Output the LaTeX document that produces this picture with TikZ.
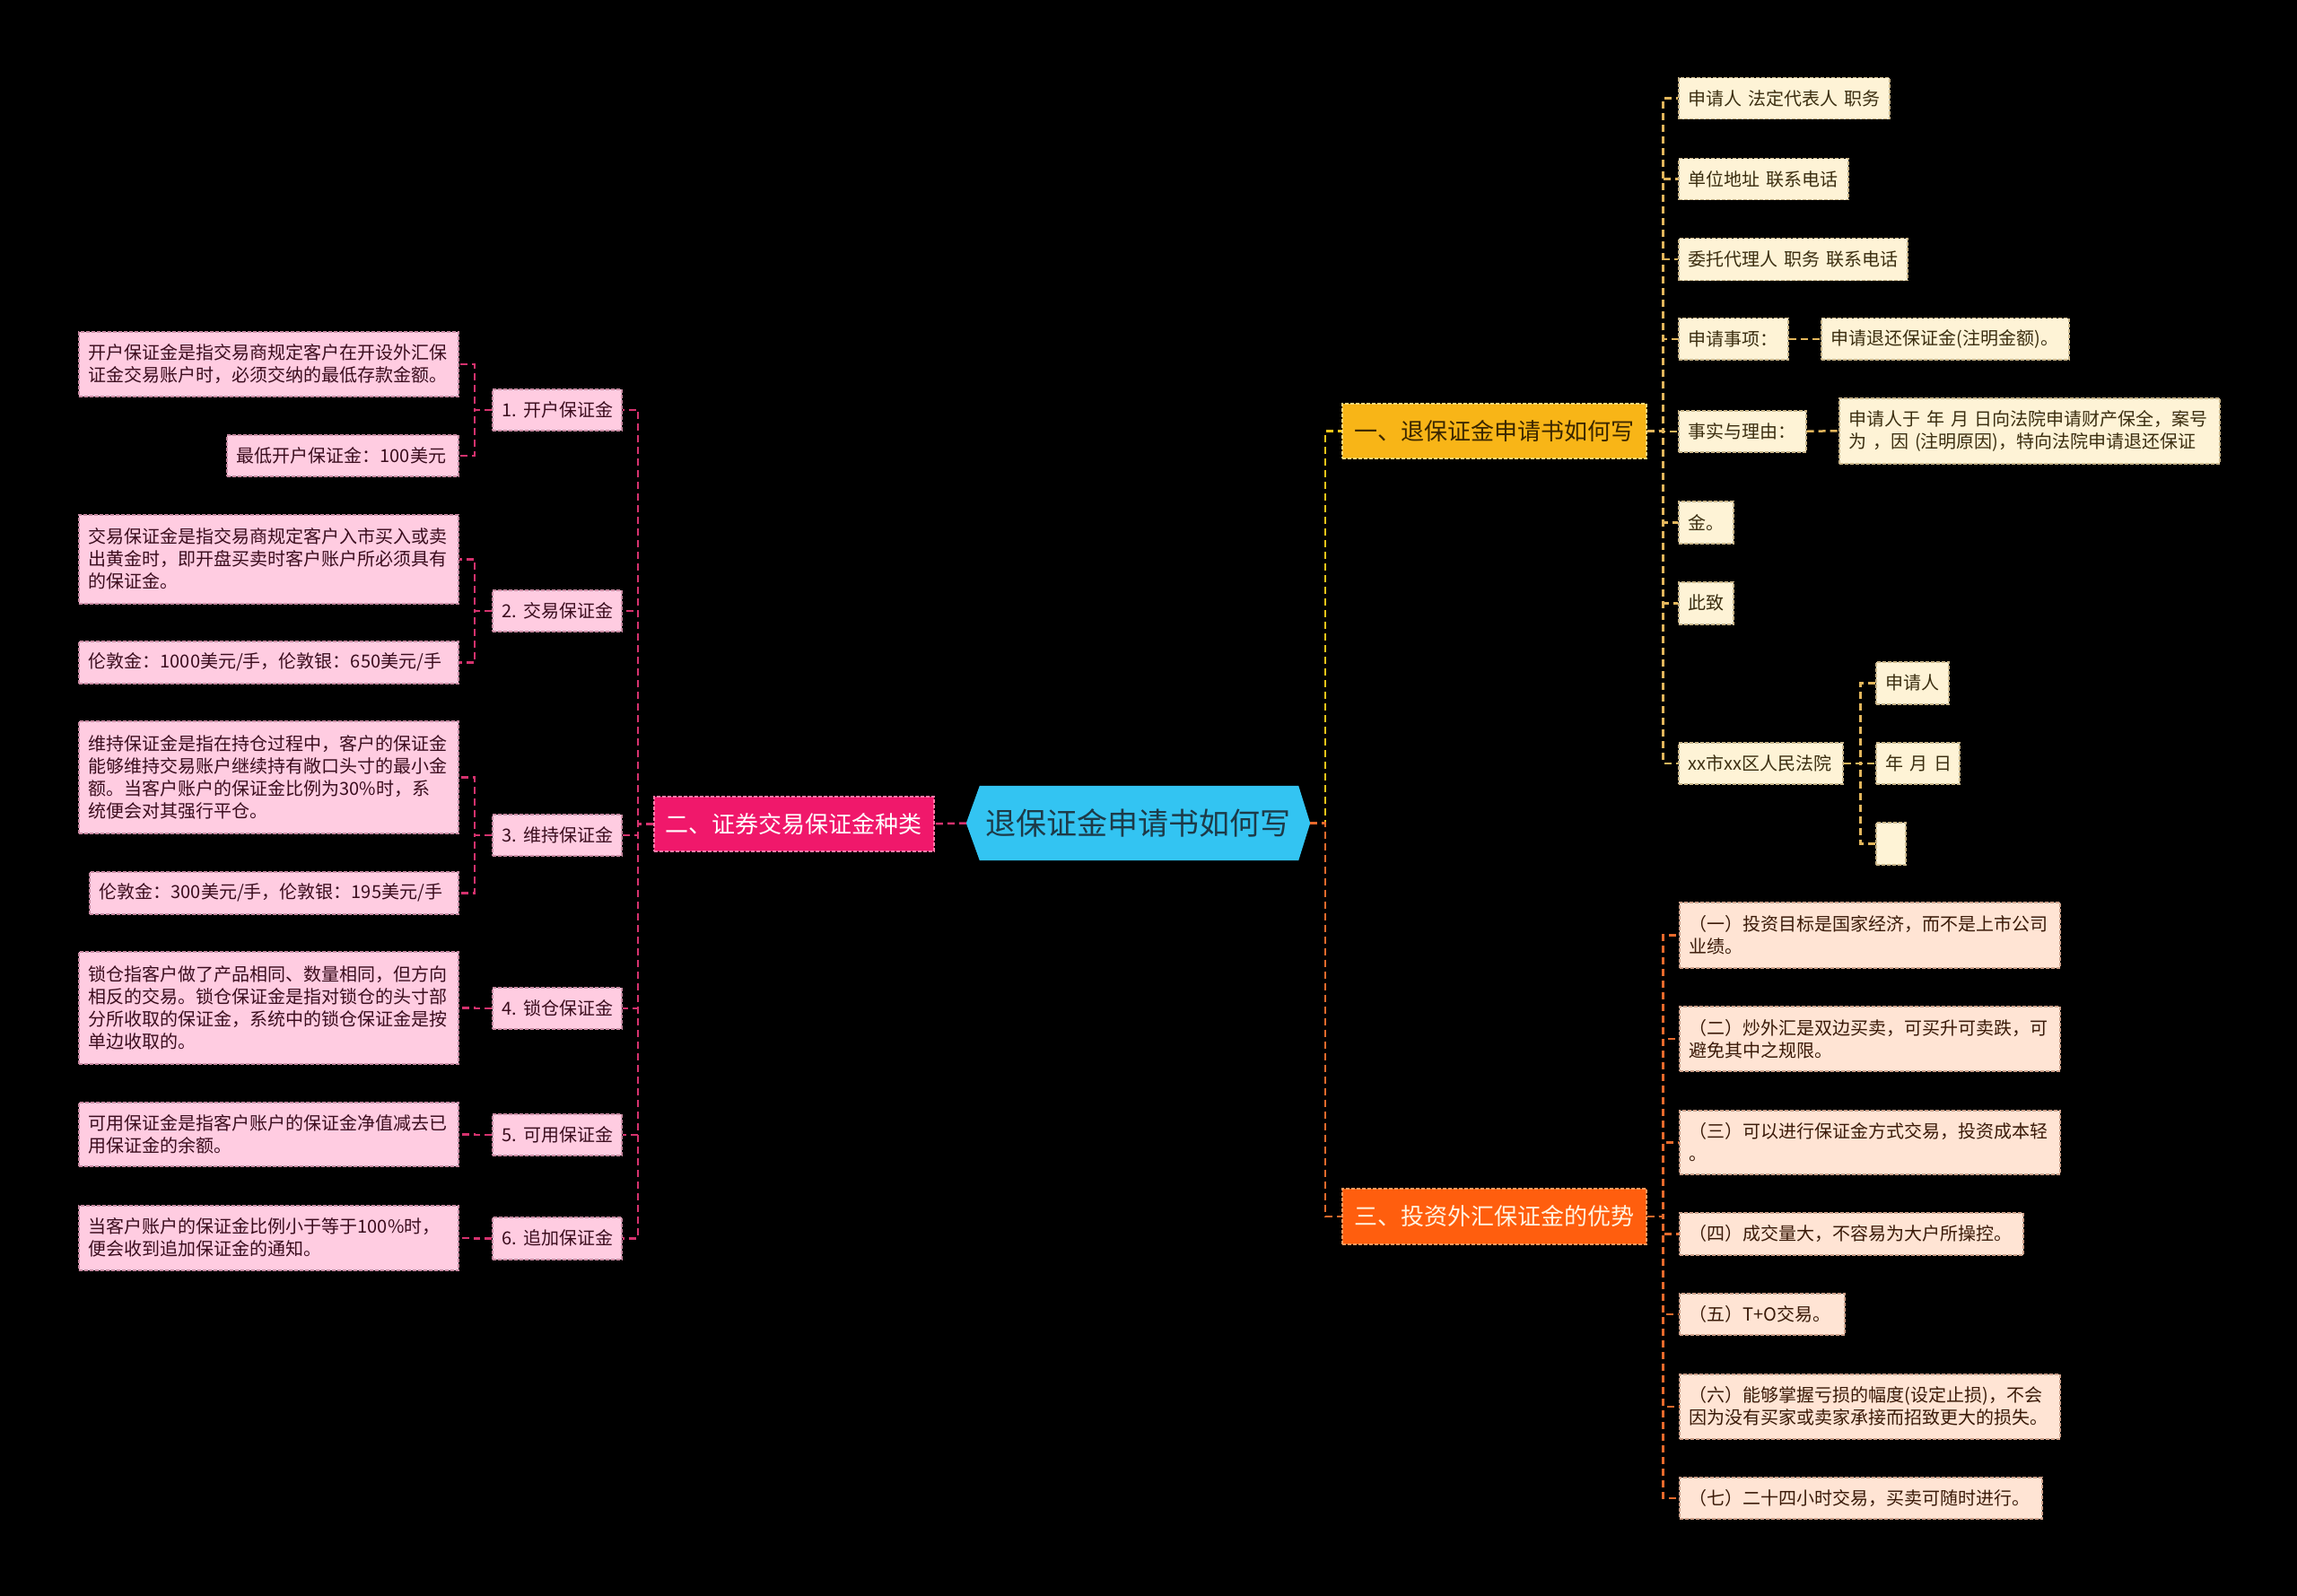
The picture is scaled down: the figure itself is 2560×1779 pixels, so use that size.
\documentclass[tikz,border=0pt]{standalone}
\usepackage{fontspec}
\setmainfont{Noto Sans CJK SC}
\usetikzlibrary{backgrounds}
\definecolor{bg}{HTML}{000000}
\definecolor{cfill}{HTML}{33C4F2}
\definecolor{ctext}{HTML}{1D3A48}
\definecolor{lbr}{HTML}{F0186B}
\definecolor{lbrb}{HTML}{FF7AA8}
\definecolor{lleaff}{HTML}{FFCCE1}
\definecolor{lleafb}{HTML}{C98BA3}
\definecolor{lleaft}{HTML}{3B0D1E}
\definecolor{lconn}{HTML}{D5326E}
\definecolor{ybr}{HTML}{F8B517}
\definecolor{ybrb}{HTML}{FFD87A}
\definecolor{ybrt}{HTML}{3A2600}
\definecolor{yleaff}{HTML}{FEF3D6}
\definecolor{yleafb}{HTML}{C9B58A}
\definecolor{yleaft}{HTML}{3B2E10}
\definecolor{yconn}{HTML}{E3B65C}
\definecolor{yspine}{HTML}{F5C518}
\definecolor{obr}{HTML}{FF5E0E}
\definecolor{obrb}{HTML}{FF9A5E}
\definecolor{obrt}{HTML}{FFF3E0}
\definecolor{oleaff}{HTML}{FFE4D4}
\definecolor{oleafb}{HTML}{CDA08A}
\definecolor{oleaft}{HTML}{3A1A08}
\definecolor{oconn}{HTML}{E86A2C}
\tikzset{
  boxbase/.style={rectangle, dash pattern=on 4pt off 2pt, line width=1.5pt, align=left,
    font=\fontsize{20pt}{25pt}\selectfont},
  lleaf/.style={boxbase, draw=lleafb, fill=lleaff, text=lleaft},
  yleaf/.style={boxbase, draw=yleafb, fill=yleaff, text=yleaft},
  oleaf/.style={boxbase, draw=oleafb, fill=oleaff, text=oleaft},
  brbase/.style={rectangle, dash pattern=on 4pt off 2pt, line width=1.5pt, align=center,
    font=\fontsize{26pt}{30pt}\selectfont},
  lbranch/.style={brbase, draw=lbrb, fill=lbr, text=white},
  ybranch/.style={brbase, draw=ybrb, fill=ybr, text=ybrt},
  obranch/.style={brbase, draw=obrb, fill=obr, text=obrt},
  conn/.style={dash pattern=on 8pt off 5pt, line width=2.5pt},
  lc/.style={conn, draw=lconn},
  yc/.style={conn, draw=yconn},
  ysp/.style={conn, draw=yspine},
  oc/.style={conn, draw=oconn},
}
\newcommand\bx[7]{%
  \pgfmathsetmacro\bxw{#5-#3}\pgfmathsetmacro\bxh{#6-#4}\pgfmathsetmacro\bxt{#5-#3-22}%
  \node[#2, anchor=north west, minimum width=\bxw pt, minimum height=\bxh pt,
    text width=\bxt pt, inner xsep=11pt, inner ysep=2pt] (#1) at (#3,#4) {#7};}
\begin{document}
\begin{tikzpicture}[x=1pt,y=-1pt]
\useasboundingbox (0,0) rectangle (2560,1779);
% central
\node[font=\fontsize{34pt}{38pt}\selectfont, text=ctext, minimum width=383pt, minimum height=83pt, inner sep=0pt] (c) at (1268.5,917.5) {退保证金申请书如何写};
\begin{scope}[on background layer]
\fill[bg] (0,0) rectangle (2560,1779);
\fill[cfill] (c.west) -- ([xshift=15pt]c.north west) -- ([xshift=-13pt]c.north east) -- (c.east)
  -- ([xshift=-13pt]c.south east) -- ([xshift=15pt]c.south west) -- cycle;
\end{scope}
% left side
\bx{l2}{lbranch}{728}{887}{1040}{948}{二、证券交易保证金种类}
\bx{a1}{lleaf}{87}{369}{510}{441}{开户保证金是指交易商规定客户在开设外汇保\\证金交易账户时，必须交纳的最低存款金额。}
\bx{a2}{lleaf}{252}{484}{510}{530}{最低开户保证金：100美元}
\bx{s1}{lleaf}{548}{433}{692}{479}{1.~开户保证金}
\bx{b1}{lleaf}{87}{573}{510}{672}{交易保证金是指交易商规定客户入市买入或卖\\出黄金时，即开盘买卖时客户账户所必须具有\\的保证金。}
\bx{b2}{lleaf}{87}{714}{510}{761}{伦敦金：1000美元/手，伦敦银：650美元/手}
\bx{s2}{lleaf}{548}{657}{692}{703}{2.~交易保证金}
\bx{c1}{lleaf}{87}{803}{510}{928}{维持保证金是指在持仓过程中，客户的保证金\\能够维持交易账户继续持有敞口头寸的最小金\\额。当客户账户的保证金比例为30\%时，系\\统便会对其强行平仓。}
\bx{c2}{lleaf}{99}{971}{510}{1018}{伦敦金：300美元/手，伦敦银：195美元/手}
\bx{s3}{lleaf}{548}{907}{692}{953}{3.~维持保证金}
\bx{d1}{lleaf}{87}{1060}{510}{1185}{锁仓指客户做了产品相同、数量相同，但方向\\相反的交易。锁仓保证金是指对锁仓的头寸部\\分所收取的保证金，系统中的锁仓保证金是按\\单边收取的。}
\bx{s4}{lleaf}{548}{1100}{692}{1146}{4.~锁仓保证金}
\bx{e1}{lleaf}{87}{1228}{510}{1299}{可用保证金是指客户账户的保证金净值减去已\\用保证金的余额。}
\bx{s5}{lleaf}{548}{1241}{692}{1287}{5.~可用保证金}
\bx{f1}{lleaf}{87}{1343}{510}{1415}{当客户账户的保证金比例小于等于100\%时，\\便会收到追加保证金的通知。}
\bx{s6}{lleaf}{548}{1356}{692}{1403}{6.~追加保证金}
% right side branch 1
\bx{r1}{ybranch}{1495}{449}{1834}{510}{一、退保证金申请书如何写}
\bx{y1}{yleaf}{1870}{86}{2105}{132}{申请人~法定代表人~职务}
\bx{y2}{yleaf}{1870}{176}{2059}{222}{单位地址~联系电话}
\bx{y3}{yleaf}{1870}{265}{2125}{312}{委托代理人~职务~联系电话}
\bx{y4}{yleaf}{1870}{354}{1992}{400}{申请事项：}
\bx{y4a}{yleaf}{2029}{354}{2305}{400}{申请退还保证金(注明金额)。}
\bx{y5}{yleaf}{1870}{457}{2012}{503}{事实与理由：}
\bx{y5a}{yleaf}{2049}{443}{2473}{516}{申请人于~年~月~日向法院申请财产保全，案号\\为~，因~(注明原因)，特向法院申请退还保证}
\bx{y6}{yleaf}{1870}{558}{1931}{605}{金。}
\bx{y7}{yleaf}{1870}{648}{1931}{695}{此致}
\bx{y8}{yleaf}{1870}{827}{2053}{873}{xx市xx区人民法院}
\bx{y8a}{yleaf}{2090}{737}{2171}{784}{申请人}
\bx{y8b}{yleaf}{2090}{827}{2183}{873}{年~月~日}
\bx{y8c}{yleaf}{2090}{916}{2123}{963}{}
% right side branch 3
\bx{r3}{obranch}{1495}{1324}{1834}{1386}{三、投资外汇保证金的优势}
\bx{o1}{oleaf}{1871}{1005}{2295}{1078}{（一）投资目标是国家经济，而不是上市公司\\业绩。}
\bx{o2}{oleaf}{1871}{1121}{2295}{1193}{（二）炒外汇是双边买卖，可买升可卖跌，可\\避免其中之规限。}
\bx{o3}{oleaf}{1871}{1237}{2295}{1308}{（三）可以进行保证金方式交易，投资成本轻\\。}
\bx{o4}{oleaf}{1871}{1351}{2254}{1398}{（四）成交量大，不容易为大户所操控。}
\bx{o5}{oleaf}{1871}{1441}{2055}{1487}{（五）T+O交易。}
\bx{o6}{oleaf}{1871}{1531}{2295}{1603}{（六）能够掌握亏损的幅度(设定止损)，不会\\因为没有买家或卖家承接而招致更大的损失。}
\bx{o7}{oleaf}{1871}{1646}{2275}{1692}{（七）二十四小时交易，买卖可随时进行。}
% connectors: center
\draw[lc] (c.west) -- (l2.east);
\draw[ysp] (c.east) -- ++(17,0) |- (r1.west);
\draw[oc] (c.east) -- ++(17,0) |- (r3.west);
% left
\foreach \s in {s1,s2,s3,s4,s5,s6} \draw[lc] (l2.west) -- ++(-17,0) |- (\s.east);
\draw[lc] (s1.west) -- ++(-19,0) |- (a1.east);
\draw[lc] (s1.west) -- ++(-19,0) |- (a2.east);
\draw[lc] (s2.west) -- ++(-19,0) |- (b1.east);
\draw[lc] (s2.west) -- ++(-19,0) |- (b2.east);
\draw[lc] (s3.west) -- ++(-19,0) |- (c1.east);
\draw[lc] (s3.west) -- ++(-19,0) |- (c2.east);
\draw[lc] (s4.west) -- ++(-19,0) |- (d1.east);
\draw[lc] (s5.west) -- ++(-19,0) |- (e1.east);
\draw[lc] (s6.west) -- ++(-19,0) |- (f1.east);
% right branch 1
\foreach \n in {y1,y2,y3,y4,y5,y6,y7,y8} \draw[yc] (r1.east) -- ++(18,0) |- (\n.west);
\draw[yc] (y4.east) -- (y4a.west);
\draw[yc] (y5.east) -- (y5a.west);
\foreach \n in {y8a,y8b,y8c} \draw[yc] (y8.east) -- ++(19,0) |- (\n.west);
% right branch 3
\foreach \n in {o1,o2,o3,o4,o5,o6,o7} \draw[oc] (r3.east) -- ++(18,0) |- (\n.west);
\end{tikzpicture}
\end{document}
